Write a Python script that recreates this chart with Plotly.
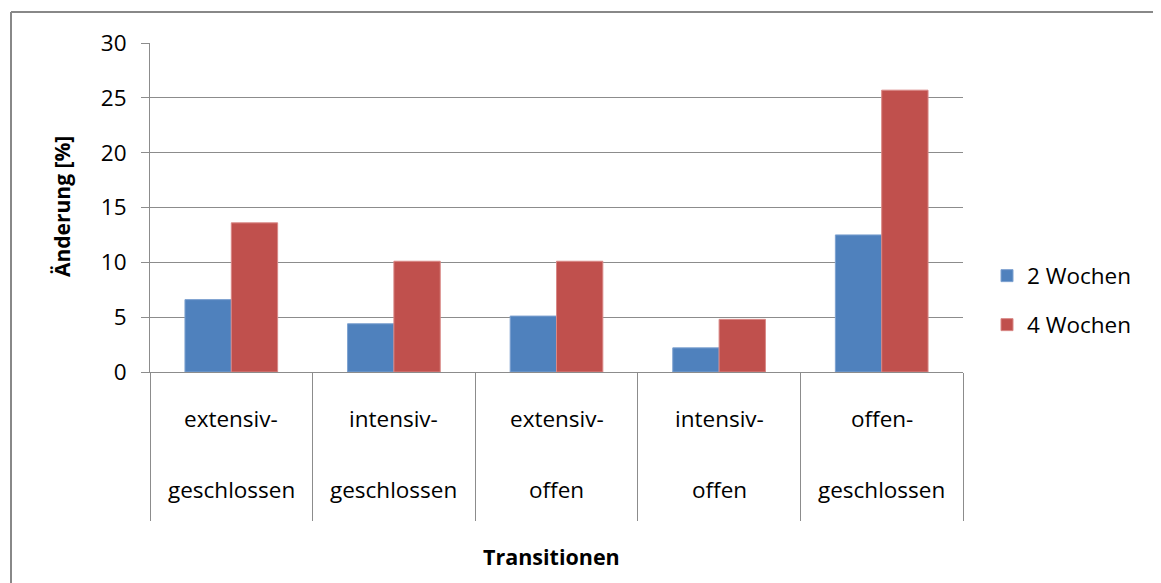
import plotly.graph_objects as go

categories = ["extensiv-geschlossen", "intensiv-geschlossen", "extensiv-offen", "intensiv-offen", "offen-geschlossen"]
label_top = ["extensiv-", "intensiv-", "extensiv-", "intensiv-", "offen-"]
label_bottom = ["geschlossen", "geschlossen", "offen", "offen", "geschlossen"]
series_names = ["2 Wochen", "4 Wochen"]
values_2w = [6.6, 4.4, 5.1, 2.2, 12.5]
values_4w = [13.6, 10.1, 10.1, 4.8, 25.7]
y_ticks = [0, 5, 10, 15, 20, 25, 30]

FONT = "'Open Sans', sans-serif"
OFF = 8  # page body margin offset
W, H = 1161 - OFF, 583 - OFF
# target screen coordinates of the plot area
L, R, T, B = 150, 963, 43, 372


def px_x(px):
    return (px - L) / (R - L)


def px_y(py):
    return (B - py) / (B - T)


fig = go.Figure()
fig.add_trace(go.Bar(x=categories, y=values_2w, name=series_names[0],
                     marker=dict(color="#4F81BD", line=dict(color="#7EA2D0", width=1)),
                     legend="legend"))
fig.add_trace(go.Bar(x=categories, y=values_4w, name=series_names[1],
                     marker=dict(color="#C0504D", line=dict(color="#D98886", width=1)),
                     legend="legend2"))

annotations = []
for c, t, b in zip(categories, label_top, label_bottom):
    annotations.append(dict(x=c, xref="x", y=px_y(418), yref="paper", text=t, showarrow=False,
                            font=dict(family=FONT, size=22.5, color="#000000"), yanchor="middle"))
    annotations.append(dict(x=c, xref="x", y=px_y(489), yref="paper", text=b, showarrow=False,
                            font=dict(family=FONT, size=22.5, color="#000000"), yanchor="middle"))
annotations.append(dict(x=px_x(551), xref="paper", y=px_y(556), yref="paper", text="<b>Transitionen</b>",
                        showarrow=False, font=dict(family=FONT, size=21.5, color="#000000"), yanchor="middle"))
annotations.append(dict(x=px_x(62), xref="paper", y=px_y(207), yref="paper", text="<b>Änderung [%]</b>",
                        showarrow=False, textangle=-90, font=dict(family=FONT, size=21, color="#000000"),
                        xanchor="center", yanchor="middle"))

shapes = [
    dict(type="line", xref="paper", yref="paper", x0=px_x(11), x1=px_x(1200), y0=px_y(12), y1=px_y(12),
         line=dict(color="#888888", width=2)),
    dict(type="line", xref="paper", yref="paper", x0=px_x(11), x1=px_x(11), y0=px_y(12), y1=px_y(600),
         line=dict(color="#888888", width=2)),
]

fig.update_layout(
    width=W, height=H,
    margin=dict(l=L - OFF, r=1161 - R, t=T - OFF, b=583 - B),
    paper_bgcolor="white", plot_bgcolor="white",
    barmode="group", bargap=0.43, bargroupgap=0,
    font=dict(family=FONT, size=22, color="#000000"),
    annotations=annotations,
    shapes=shapes,
    legend=dict(x=px_x(987), y=px_y(276), xanchor="left", yanchor="middle",
                font=dict(family=FONT, size=22.5), bgcolor="rgba(0,0,0,0)"),
    legend2=dict(x=px_x(987), y=px_y(325), xanchor="left", yanchor="middle",
                 font=dict(family=FONT, size=22.5), bgcolor="rgba(0,0,0,0)"),
    showlegend=True,
)
fig.update_xaxes(type="category", showticklabels=False, tickson="boundaries", ticks="outside",
                 ticklen=148, tickcolor="#8c8c8c", tickwidth=1,
                 showline=True, linecolor="#8c8c8c", linewidth=1, showgrid=False)
fig.update_yaxes(range=[0, 30], tickvals=y_ticks, ticks="outside", ticklen=8, tickcolor="#8c8c8c",
                 showline=True, linecolor="#8c8c8c", linewidth=1,
                 showgrid=True, gridcolor="#8c8c8c", gridwidth=1, zeroline=False,
                 ticklabelstandoff=10,
                 tickfont=dict(family=FONT, size=22.5, color="#000000"))

fig.write_html("out.html")
